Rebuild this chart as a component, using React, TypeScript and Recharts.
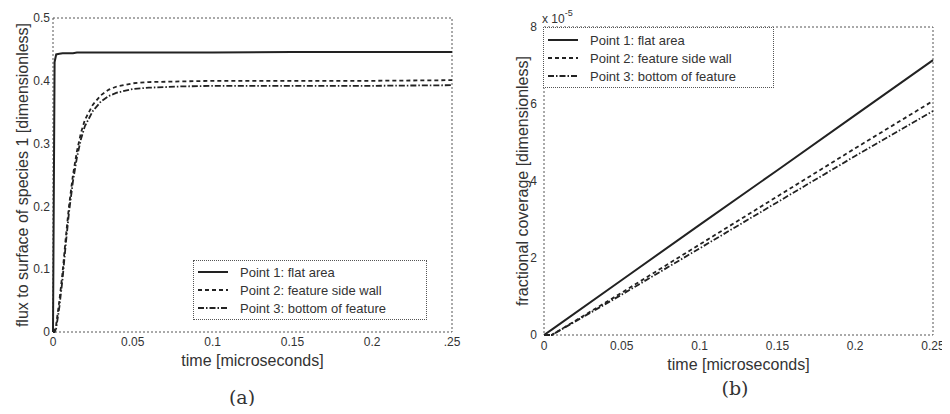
import {
  LineChart,
  Line,
  XAxis,
  YAxis,
  ReferenceArea,
  Legend,
} from "recharts";

// panel (a): flux to surface
const fluxTime = [
  0, 0.001, 0.002, 0.004, 0.006, 0.008, 0.01, 0.0125, 0.015, 0.0175, 0.02,
  0.025, 0.03, 0.035, 0.04, 0.05, 0.06, 0.08, 0.1, 0.15, 0.2, 0.25,
];
const fluxPoint1 = [
  0, 0.43, 0.442, 0.443, 0.444, 0.444, 0.444, 0.444, 0.445, 0.445, 0.445,
  0.445, 0.445, 0.445, 0.445, 0.445, 0.445, 0.445, 0.445, 0.446, 0.446, 0.446,
];
const fluxPoint2 = [
  0, 0.003, 0.012, 0.05, 0.095, 0.15, 0.2, 0.25, 0.288, 0.317, 0.338, 0.362,
  0.377, 0.386, 0.391, 0.396, 0.398, 0.399, 0.4, 0.4, 0.4, 0.401,
];
const fluxPoint3 = [
  0, 0, 0.006, 0.04, 0.085, 0.14, 0.19, 0.24, 0.278, 0.307, 0.328, 0.352,
  0.367, 0.376, 0.381, 0.387, 0.389, 0.391, 0.392, 0.392, 0.392, 0.393,
];

// panel (b): fractional coverage (x 10^-5)
const covTime = [0, 0.005, 0.05, 0.1, 0.15, 0.2, 0.25];
const covPoint1 = [0, 0.14, 1.43, 2.86, 4.28, 5.71, 7.14];
const covPoint2 = [0, 0, 1.1, 2.35, 3.6, 4.85, 6.08];
const covPoint3 = [0, 0, 1.05, 2.25, 3.45, 4.65, 5.82];

const timeTicks = [0, 0.05, 0.1, 0.15, 0.2, 0.25];
const fluxTimeLabels = ["0", "0.05", "0.1", "0.15", "0.2", ".25"];
const covTimeLabels = ["0", "0.05", "0.1", "0.15", "0.2", "0.25"];
const fluxTicks = [0, 0.1, 0.2, 0.3, 0.4, 0.5];
const covTicks = [0, 2, 4, 6, 8];

const seriesNames = [
  "Point 1: flat area",
  "Point 2: feature side wall",
  "Point 3: bottom of feature",
];
const dashes = [undefined, "4 3", "6 2 1.5 2"];
const widths = [2, 1.8, 1.8];

const FONT = "'Liberation Sans', Arial, sans-serif";
const INK = "#222";
const TXT = "#333";

const fluxData = fluxTime.map((t, i) => ({
  t,
  p1: fluxPoint1[i],
  p2: fluxPoint2[i],
  p3: fluxPoint3[i],
}));
const covData = covTime.map((t, i) => ({
  t,
  p1: covPoint1[i],
  p2: covPoint2[i],
  p3: covPoint3[i],
}));

const LegendBox = ({ padTop }: { padTop: number }) => (
  <div
    style={{
      border: "1px dotted #555",
      background: "#fff",
      padding: `${padTop}px 6px 2px 4px`,
      fontFamily: FONT,
      fontSize: 13,
      color: TXT,
    }}
  >
    {seriesNames.map((name, i) => (
      <div
        key={name}
        style={{ display: "flex", alignItems: "center", height: 18 }}
      >
        <svg width={30} height={10} style={{ marginRight: 12 }}>
          <line
            x1={0}
            y1={5}
            x2={30}
            y2={5}
            stroke={INK}
            strokeWidth={widths[i]}
            strokeDasharray={dashes[i]}
          />
        </svg>
        <span style={{ whiteSpace: "nowrap" }}>{name}</span>
      </div>
    ))}
  </div>
);

const tickStyle = { fontSize: 12, fill: TXT, fontFamily: FONT };
const labelStyle = { fontSize: 16, fill: TXT, fontFamily: FONT };

const App = () => {
  return (
    <div
      style={{
        position: "relative",
        width: 950,
        height: 414,
        margin: -8,
        overflow: "hidden",
        background: "#fff",
      }}
    >
      <div style={{ position: "absolute", left: 0, top: 0 }}>
        <LineChart
          width={470}
          height={380}
          data={fluxData}
          margin={{ top: 18, right: 18, bottom: 12, left: 0 }}
        >
          <XAxis
            dataKey="t"
            type="number"
            domain={[0, 0.25]}
            ticks={timeTicks}
            tickFormatter={(v, i) => fluxTimeLabels[i]}
            axisLine={false}
            tickLine={false}
            tickSize={3}
            tickMargin={2}
            height={36}
            tick={tickStyle}
            interval={0}
            label={{
              value: "time [microseconds]",
              position: "insideBottom",
              offset: 2,
              style: labelStyle,
            }}
          />
          <YAxis
            type="number"
            domain={[0, 0.5]}
            ticks={fluxTicks}
            axisLine={false}
            tickLine={false}
            tickSize={2}
            tickMargin={1}
            width={53}
            tick={tickStyle}
            interval={0}
            label={{
              value: "flux to surface of species 1 [dimensionless]",
              angle: -90,
              position: "center",
              dx: -4,
              style: { ...labelStyle, textAnchor: "middle" },
            }}
          />
          <ReferenceArea
            x1={0}
            x2={0.25}
            y1={0}
            y2={0.5}
            fill="#fff"
            fillOpacity={0}
            stroke="#555"
            strokeDasharray="2 2"
          />
          <Line
            type="linear"
            dataKey="p1"
            stroke={INK}
            strokeWidth={widths[0]}
            dot={false}
            isAnimationActive={false}
          />
          <Line
            type="linear"
            dataKey="p2"
            stroke={INK}
            strokeWidth={widths[1]}
            strokeDasharray={dashes[1]}
            dot={false}
            isAnimationActive={false}
          />
          <Line
            type="linear"
            dataKey="p3"
            stroke={INK}
            strokeWidth={widths[2]}
            strokeDasharray={dashes[2]}
            dot={false}
            isAnimationActive={false}
          />
          <Legend
            layout="vertical"
            align="center"
            verticalAlign="middle"
            content={() => <LegendBox padTop={2} />}
            wrapperStyle={{ left: 193, top: 260, width: 234 }}
          />
        </LineChart>
      </div>

      <div style={{ position: "absolute", left: 480, top: 0 }}>
        <LineChart
          width={470}
          height={380}
          data={covData}
          margin={{ top: 27, right: 17, bottom: 9, left: 0 }}
        >
          <XAxis
            dataKey="t"
            type="number"
            domain={[0, 0.25]}
            ticks={timeTicks}
            tickFormatter={(v, i) => covTimeLabels[i]}
            axisLine={false}
            tickLine={false}
            tickSize={4}
            tickMargin={2}
            height={36}
            tick={tickStyle}
            interval={0}
            label={{
              value: "time [microseconds]",
              position: "insideBottom",
              offset: 1,
              style: labelStyle,
            }}
          />
          <YAxis
            type="number"
            domain={[0, 8]}
            ticks={covTicks}
            axisLine={false}
            tickLine={false}
            tickSize={4}
            tickMargin={3}
            width={64}
            tick={tickStyle}
            interval={0}
            label={{
              value: "fractional coverage [dimensionless]",
              angle: -90,
              position: "center",
              dx: 10,
              style: { ...labelStyle, textAnchor: "middle" },
            }}
          />
          <ReferenceArea
            x1={0}
            x2={0.25}
            y1={0}
            y2={8}
            fill="#fff"
            fillOpacity={0}
            stroke="#555"
            strokeDasharray="2 2"
          />
          <Line
            type="linear"
            dataKey="p1"
            stroke={INK}
            strokeWidth={widths[0]}
            dot={false}
            isAnimationActive={false}
          />
          <Line
            type="linear"
            dataKey="p2"
            stroke={INK}
            strokeWidth={widths[1]}
            strokeDasharray={dashes[1]}
            dot={false}
            isAnimationActive={false}
          />
          <Line
            type="linear"
            dataKey="p3"
            stroke={INK}
            strokeWidth={widths[2]}
            strokeDasharray={dashes[2]}
            dot={false}
            isAnimationActive={false}
          />
          <Legend
            layout="vertical"
            align="center"
            verticalAlign="middle"
            content={() => <LegendBox padTop={3} />}
            wrapperStyle={{ left: 63, top: 27, width: 231 }}
          />
        </LineChart>
      </div>

      <div
        style={{
          position: "absolute",
          left: 542,
          top: 8,
          fontFamily: FONT,
          fontSize: 12,
          color: TXT,
          lineHeight: "14px",
        }}
      >
        x 10
        <sup style={{ fontSize: 9, position: "relative", top: -2 }}>-5</sup>
      </div>

      <div
        style={{
          position: "absolute",
          left: 222,
          top: 386,
          width: 40,
          textAlign: "center",
          fontFamily: "'DejaVu Serif', serif",
          fontSize: 19,
          color: TXT,
        }}
      >
        (a)
      </div>
      <div
        style={{
          position: "absolute",
          left: 715,
          top: 377,
          width: 40,
          textAlign: "center",
          fontFamily: "'DejaVu Serif', serif",
          fontSize: 19,
          color: TXT,
        }}
      >
        (b)
      </div>
    </div>
  );
};

export default App;
